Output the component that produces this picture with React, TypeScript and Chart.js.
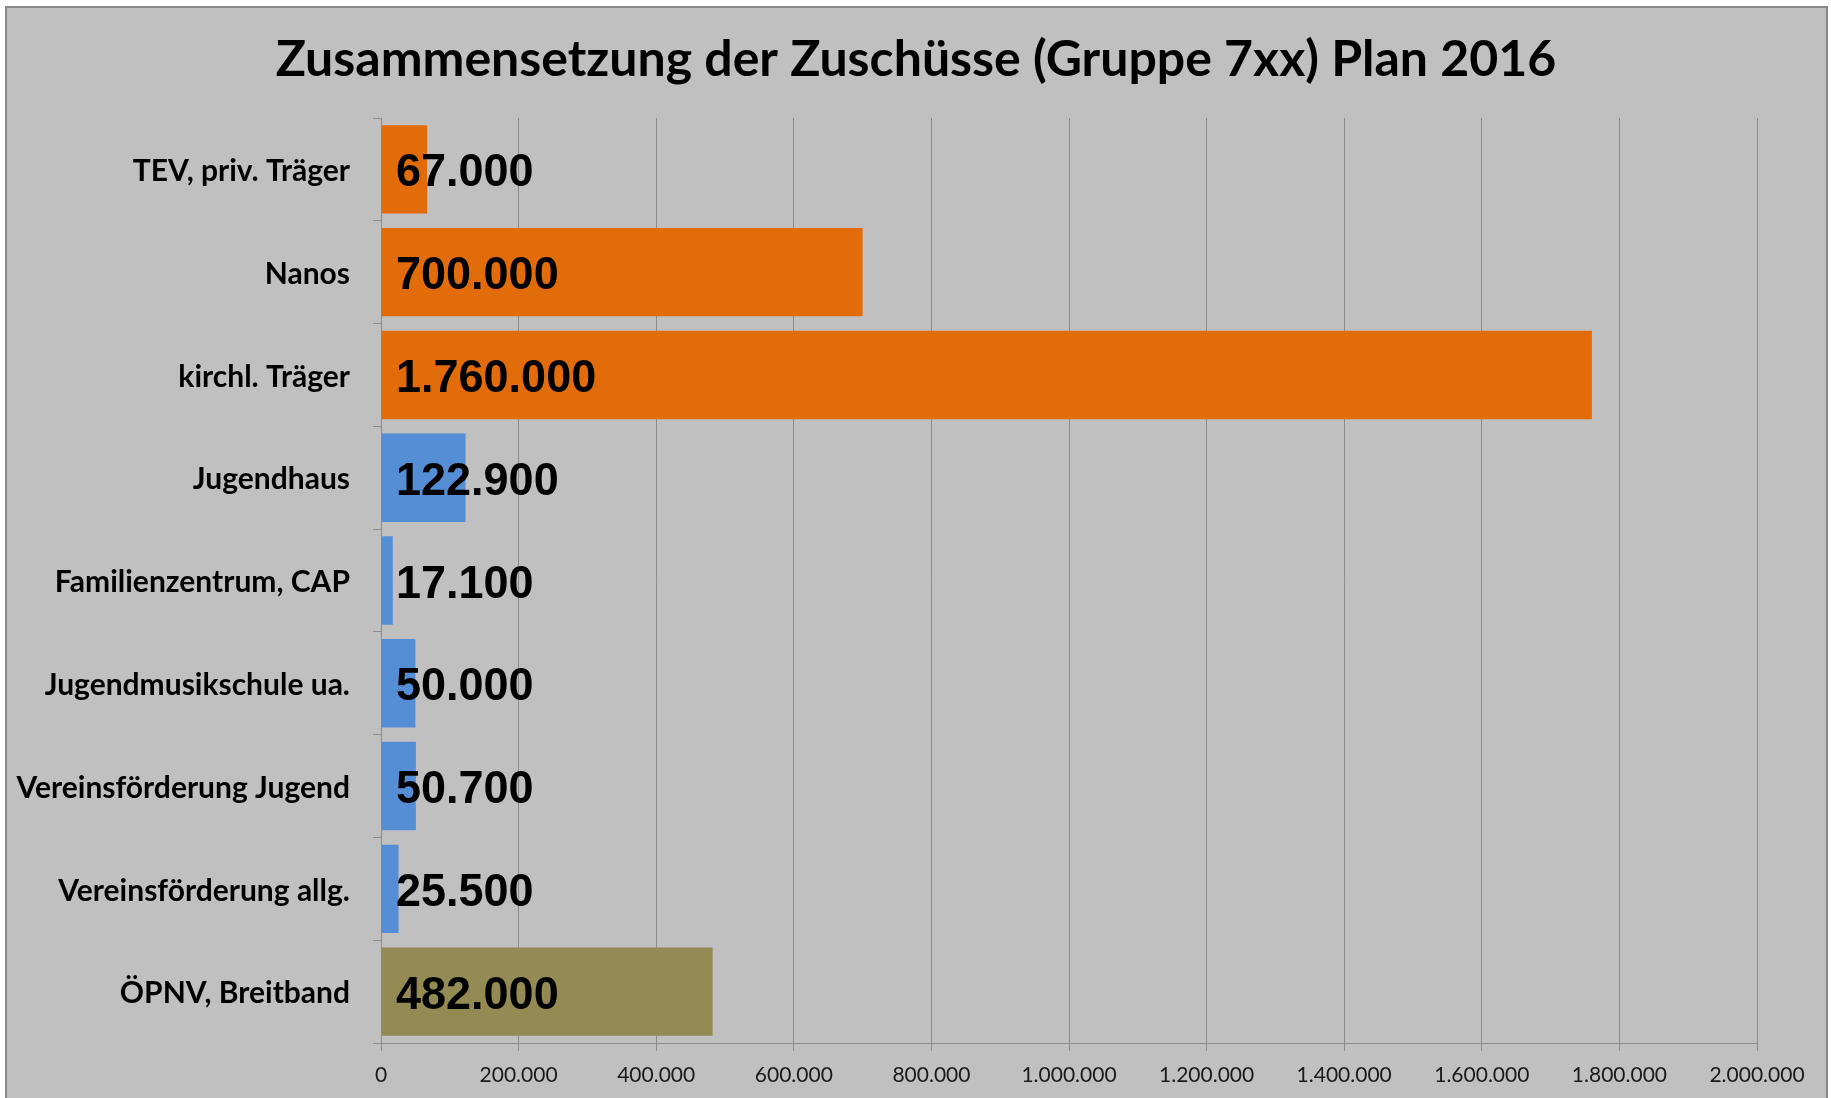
import React, { useEffect, useRef } from "react";
import { Chart, registerables } from "chart.js";

Chart.register(...registerables);

const TITLE = "Zusammensetzung der Zuschüsse (Gruppe 7xx) Plan 2016";

const categories = [
  "TEV, priv. Träger",
  "Nanos",
  "kirchl. Träger",
  "Jugendhaus",
  "Familienzentrum, CAP",
  "Jugendmusikschule ua.",
  "Vereinsförderung Jugend",
  "Vereinsförderung allg.",
  "ÖPNV, Breitband",
];

const values = [67000, 700000, 1760000, 122900, 17100, 50000, 50700, 25500, 482000];

const ORANGE = "#E36C0A";
const BLUE = "#558ED5";
const OLIVE = "#948A54";
const barColors = [ORANGE, ORANGE, ORANGE, BLUE, BLUE, BLUE, BLUE, BLUE, OLIVE];

const xMin = 0;
const xMax = 2000000;
const xStep = 200000;

function fmt(v: number): string {
  const s = Math.round(v).toString();
  return s.replace(/\B(?=(\d{3})+(?!\d))/g, ".");
}

const W = 1831;
const H = 1098;
const PLOT_LEFT = 381;
const PLOT_RIGHT = 1757;
const PLOT_TOP = 118;
const PLOT_BOTTOM = 1043;
const GRID = "#8C8C8C";

const titlePlugin = {
  id: "centerTitle",
  afterDraw(chart: any) {
    const ctx = chart.ctx;
    ctx.save();
    ctx.font = 'bold 50px "Lato", sans-serif';
    ctx.fillStyle = "#000";
    ctx.textAlign = "center";
    ctx.textBaseline = "alphabetic";
    ctx.fillText(TITLE, 916, 76);
    ctx.restore();
  },
};

const valueLabels = {
  id: "valueLabels",
  afterDatasetsDraw(chart: any) {
    const ctx = chart.ctx;
    const meta = chart.getDatasetMeta(0);
    ctx.save();
    ctx.font = 'bold 45px "Liberation Sans", Arial, sans-serif';
    ctx.fillStyle = "#000";
    ctx.textAlign = "left";
    ctx.textBaseline = "alphabetic";
    meta.data.forEach((bar: any, i: number) => {
      const x = chart.chartArea.left + 15;
      const y = bar.y + 17;
      ctx.save();
      ctx.translate(x, y);
      ctx.scale(1, 1.04);
      ctx.fillText(fmt(values[i]), 0, 0);
      ctx.restore();
    });
    ctx.restore();
  },
};

export default function App() {
  const ref = useRef<HTMLCanvasElement>(null);

  useEffect(() => {
    if (!ref.current) return;
    const chart = new Chart(ref.current, {
      type: "bar",
      data: {
        labels: categories,
        datasets: [
          {
            data: values,
            backgroundColor: barColors,
            borderWidth: 0,
            barPercentage: 0.86,
            categoryPercentage: 1,
          },
        ],
      },
      plugins: [valueLabels, titlePlugin],
      options: {
        indexAxis: "y",
        animation: false,
        responsive: false,
        maintainAspectRatio: false,
        layout: { padding: { left: 0, right: W - PLOT_RIGHT, top: PLOT_TOP, bottom: 0 } },
        plugins: {
          legend: { display: false },
          tooltip: { enabled: false },
          title: { display: false },
        },
        scales: {
          x: {
            min: xMin,
            max: xMax,
            afterFit: (s: any) => {
              s.height = H - PLOT_BOTTOM;
            },
            ticks: {
              stepSize: xStep,
              callback: (v: any) => fmt(Number(v)),
              color: "#1a1a1a",
              font: { family: "Lato", size: 21 },
              padding: 12,
              maxRotation: 0,
            },
            grid: {
              color: GRID,
              lineWidth: 1,
              tickLength: 8,
              drawTicks: true,
            },
            border: { color: GRID, width: 1 },
          },
          y: {
            afterFit: (s: any) => {
              s.width = PLOT_LEFT;
            },
            ticks: {
              color: "#000",
              font: { family: "Lato", weight: "bold", size: 30 },
              padding: 23,
              labelOffset: 2,
            },
            grid: {
              drawOnChartArea: false,
              color: GRID,
              tickLength: 8,
              offset: true,
            },
            border: { color: GRID, width: 1 },
          },
        },
      },
    });
    return () => chart.destroy();
  }, []);

  return (
    <div
      style={{
        position: "fixed",
        left: 0,
        top: 0,
        width: W,
        height: H,
        background: "#fff",
        overflow: "hidden",
      }}
    >
      <div
        style={{
          position: "absolute",
          left: 5,
          top: 6,
          width: 1823,
          height: 1100,
          boxSizing: "border-box",
          background: "#C0C0C0",
          border: "2px solid #8A8A8A",
        }}
      />
      <canvas
        ref={ref}
        width={W}
        height={H}
        style={{ position: "absolute", left: 0, top: 0, width: W, height: H, display: "block" }}
      />
    </div>
  );
}
